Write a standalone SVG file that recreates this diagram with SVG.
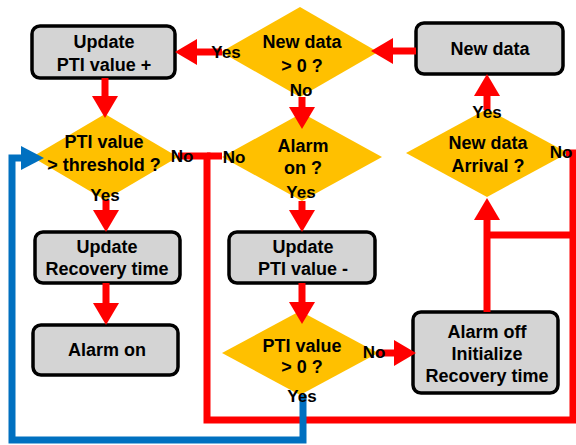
<svg xmlns="http://www.w3.org/2000/svg" width="576" height="445" viewBox="0 0 576 445">
<style>
.box{fill:#D4D4D4;stroke:#000;stroke-width:3.5}
.dia{fill:#FFC000;stroke:none}
.t{font-family:"Liberation Sans",Arial,sans-serif;font-weight:bold;font-size:18px;fill:#000;text-anchor:middle}
.lbl{font-family:"Liberation Sans",Arial,sans-serif;font-weight:bold;font-size:17px;fill:#000;text-anchor:middle}
.red{fill:none;stroke:#FF0000;stroke-width:7;stroke-linejoin:miter}
.blue{fill:none;stroke:#0070C0;stroke-width:7;stroke-linejoin:miter}
</style>
<defs>
<marker id="ar" markerUnits="userSpaceOnUse" viewBox="0 0 22 26" markerWidth="22" markerHeight="26" refX="0" refY="13" orient="auto">
<path d="M0,0 L22,13 L0,26 z" fill="#FF0000"/>
</marker>
<marker id="ab" markerUnits="userSpaceOnUse" viewBox="0 0 23 24" markerWidth="23" markerHeight="24" refX="0" refY="12" orient="auto">
<path d="M0,0 L23,12 L0,24 z" fill="#0070C0"/>
</marker>
</defs>
<g id="nodes">
<g id="n_update_plus"><rect class="box" x="32" y="26" width="143" height="52" rx="8"/><text class="t" x="104" y="48">Update</text><text class="t" x="104" y="71">PTI value +</text></g>
<g id="n_new_data"><rect class="box" x="416" y="23" width="147" height="51" rx="8"/><text class="t" x="490" y="55">New data</text></g>
<g id="d_new_data_gt0"><polygon class="dia" points="300,7 378,52 300,97 221,52"/><text class="t" x="302" y="48">New data</text><text class="t" x="302" y="72">&gt; 0 ?</text></g>
<g id="d_alarm_on"><polygon class="dia" points="302,113 382,157 302,201 222,157"/><text class="t" x="303" y="152">Alarm</text><text class="t" x="303" y="174">on ?</text></g>
<g id="d_pti_threshold"><polygon class="dia" points="105,114 178,157 105,200 32,157"/><text class="t" x="104" y="148">PTI value</text><text class="t" x="104" y="171">&gt; threshold ?</text></g>
<g id="d_arrival"><polygon class="dia" points="487,109 568,153 487,197 406,153"/><text class="t" x="488" y="149">New data</text><text class="t" x="488" y="172">Arrival ?</text></g>
<g id="n_update_recovery"><rect class="box" x="35" y="232" width="145" height="51" rx="8"/><text class="t" x="107" y="253">Update</text><text class="t" x="107" y="275">Recovery time</text></g>
<g id="n_alarm_on"><rect class="box" x="33" y="325" width="145" height="50" rx="8"/><text class="t" x="107" y="356">Alarm on</text></g>
<g id="n_update_minus"><rect class="box" x="229" y="232" width="146" height="51" rx="8"/><text class="t" x="303" y="253">Update</text><text class="t" x="303" y="275">PTI value -</text></g>
<g id="d_pti_gt0"><polygon class="dia" points="300,311 378,353 300,395 222,353"/><text class="t" x="302" y="352">PTI value</text><text class="t" x="302" y="373">&gt; 0 ?</text></g>
<g id="n_alarm_off"><rect class="box" x="413" y="312" width="145" height="81" rx="8"/><text class="t" x="487" y="338">Alarm off</text><text class="t" x="487" y="360">Initialize</text><text class="t" x="487" y="382">Recovery time</text></g>
</g>
<g id="connectors">
<path class="red" d="M416,51 H393" marker-end="url(#ar)"/>
<path class="red" d="M222,52 H197" marker-end="url(#ar)"/>
<path class="red" d="M105,78 V96" marker-end="url(#ar)"/>
<path class="red" d="M302,97 V107" marker-end="url(#ar)"/>
<path class="red" d="M302,201 V210" marker-end="url(#ar)"/>
<path class="red" d="M302,283 V302" marker-end="url(#ar)"/>
<path class="red" d="M378,353 H394" marker-end="url(#ar)"/>
<path class="red" d="M106,200 V210" marker-end="url(#ar)"/>
<path class="red" d="M106,283 V303" marker-end="url(#ar)"/>
<path class="red" d="M487,110 V96" marker-end="url(#ar)"/>
<path class="red" d="M487,312 V220" marker-end="url(#ar)"/>
<path class="red" d="M178,156 H207 V420 H573 V153 H566"/>
<path class="red" d="M222,156 H207"/>
<path class="red" d="M573,235 H487"/>
<path class="blue" d="M303,395 V440 H12 V158 H21" marker-end="url(#ab)"/>
</g>
<g id="labels">
<text class="lbl" x="226" y="58">Yes</text>
<text class="lbl" x="301" y="96">No</text>
<text class="lbl" x="182" y="162">No</text>
<text class="lbl" x="234" y="163">No</text>
<text class="lbl" x="301" y="198">Yes</text>
<text class="lbl" x="105" y="201">Yes</text>
<text class="lbl" x="487" y="118">Yes</text>
<text class="lbl" x="561" y="158">No</text>
<text class="lbl" x="374" y="358">No</text>
<text class="lbl" x="302" y="402">Yes</text>
</g>
</svg>
